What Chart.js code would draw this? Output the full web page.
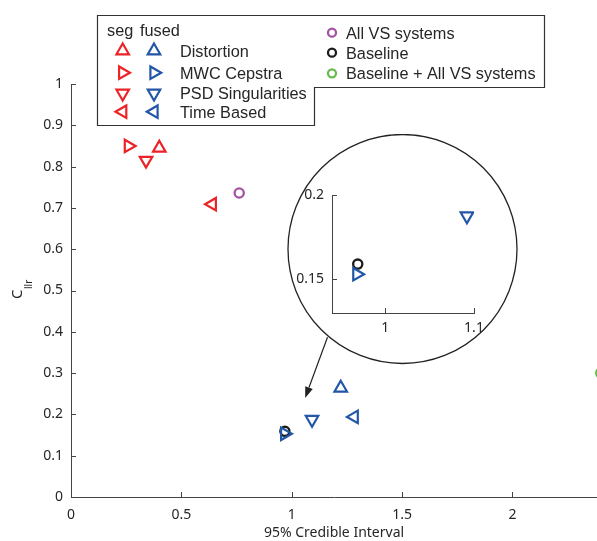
<!DOCTYPE html>
<html>
<head>
<meta charset="utf-8">
<title>Cllr vs credible interval</title>
<script src="https://cdn.jsdelivr.net/npm/chart.js@4.4.0/dist/chart.umd.min.js"></script>
<style>
body { margin: 0; background: #fff; }
#wrap { position: relative; width: 597px; height: 541px; }
#mainChart { position: absolute; left: 0; top: 0; }
#zoomChart { position: absolute; left: 287px; top: 134px; }
</style>
</head>
<body>
<div id="wrap">
<canvas id="mainChart" width="597" height="541"></canvas>
<canvas id="zoomChart" width="232" height="232"></canvas>
</div>
<script>
// feature groups, order matches the marker orientation ^ > v <
var categories = ['Distortion', 'MWC Cepstra', 'PSD Singularities', 'Time Based'];
var markerRotation = [0, 90, 180, 270];

// segment-level systems
var segX = [0.40, 0.26, 0.34, 0.64];
var segY = [0.845, 0.85, 0.815, 0.709];

// fused systems
var fusedX = [1.222, 0.968, 1.092, 1.283];
var fusedY = [0.264, 0.153, 0.1875, 0.194];

// reference systems
var allVsX = [0.762], allVsY = [0.736];
var baselineX = [0.969], baselineY = [0.159];
var comboX = [2.40], comboY = [0.30];

// axis ticks
var xTicks = [0, 0.5, 1, 1.5, 2];
var yTicks = [0, 0.1, 0.2, 0.3, 0.4, 0.5, 0.6, 0.7, 0.8, 0.9, 1];
var zoomXTicks = [1, 1.1];
var zoomYTicks = [0.15, 0.2];

var RED = '#ec2227', BLUE = '#2256a6', PURPLE = '#a352a5', GREEN = '#66bb4a', BLACK = '#1b1b1b';
var TEXT = '#262626';
var tickFont = { family: '"Noto Sans", sans-serif', size: 14 };
var TRI = 7.2, RING = 4.6;

function toPoints(xs, ys) {
    return xs.map(function(x, i) { return { x: x, y: ys[i] }; });
}
function fmt(v) { return String(Math.round(v * 1000) / 1000); }

function buildDatasets() {
    return [
        { label: 'fused', data: toPoints(fusedX, fusedY), borderColor: BLUE, backgroundColor: 'transparent',
          pointStyle: 'triangle', pointRotation: markerRotation, pointRadius: TRI, pointBorderWidth: 2.2, order: 0 },
        { label: 'seg', data: toPoints(segX, segY), borderColor: RED, backgroundColor: 'transparent',
          pointStyle: 'triangle', pointRotation: markerRotation, pointRadius: TRI, pointBorderWidth: 2.2, order: 1 },
        { label: 'All VS systems', data: toPoints(allVsX, allVsY), borderColor: PURPLE, backgroundColor: 'transparent',
          pointRadius: RING, pointBorderWidth: 2.3, order: 2 },
        { label: 'Baseline', data: toPoints(baselineX, baselineY), borderColor: BLACK, backgroundColor: 'transparent',
          pointRadius: RING, pointBorderWidth: 2.3, order: 3 },
        { label: 'Baseline + All VS systems', data: toPoints(comboX, comboY), borderColor: GREEN, backgroundColor: 'transparent',
          pointRadius: RING, pointBorderWidth: 2.3, order: 4, clip: false }
    ];
}

// fixed axis boxes, no extra label padding
function fixHeight(h) {
    return function(s) { s.height = h; s.paddingLeft = 0; s.paddingRight = 0; };
}
function fixWidth(w) {
    return function(s) { s.width = w; s.paddingTop = 0; s.paddingBottom = 0; };
}

// matlab-style ticks that point into the plot area
var inwardTicks = {
    id: 'inwardTicks',
    afterDatasetsDraw: function(chart) {
        var ctx = chart.ctx, a = chart.chartArea;
        ctx.save();
        ctx.strokeStyle = '#444';
        ctx.lineWidth = 1;
        ctx.beginPath();
        chart.scales.x.ticks.forEach(function(t) {
            var px = Math.round(chart.scales.x.getPixelForValue(t.value)) + 0.5;
            ctx.moveTo(px, a.bottom); ctx.lineTo(px, a.bottom - 5);
        });
        chart.scales.y.ticks.forEach(function(t) {
            var py = Math.round(chart.scales.y.getPixelForValue(t.value)) + 0.5;
            ctx.moveTo(a.left, py); ctx.lineTo(a.left + 5, py);
        });
        ctx.stroke();
        ctx.restore();
    }
};

function marker(ctx, color, style, rotation, radius, x, y) {
    ctx.strokeStyle = color;
    ctx.fillStyle = 'transparent';
    ctx.lineWidth = style === 'circle' ? 2.3 : 2.2;
    Chart.helpers.drawPoint(ctx, { pointStyle: style, rotation: rotation, radius: radius, borderWidth: ctx.lineWidth }, x, y);
}

// legend box, y-axis label with subscript and the zoom arrow
var decorations = {
    id: 'decorations',
    afterDraw: function(chart) {
        var ctx = chart.ctx;
        ctx.save();

        // legend outline (stepped box)
        ctx.beginPath();
        ctx.moveTo(97.5, 15.5); ctx.lineTo(544.5, 15.5); ctx.lineTo(544.5, 87.5);
        ctx.lineTo(314.5, 87.5); ctx.lineTo(314.5, 125.5); ctx.lineTo(97.5, 125.5);
        ctx.closePath();
        ctx.fillStyle = '#fff'; ctx.fill();
        ctx.strokeStyle = '#333'; ctx.lineWidth = 1.2; ctx.stroke();

        ctx.font = '16.3px "Liberation Sans", Arial, sans-serif';
        ctx.fillStyle = TEXT;
        ctx.textBaseline = 'alphabetic';
        ctx.fillText('seg', 107, 35.5);
        ctx.fillText('fused', 140, 35.5);
        var rows = [50.7, 72.7, 93.3, 111.7];
        categories.forEach(function(name, i) {
            ctx.fillStyle = TEXT;
            ctx.fillText(name, 180, rows[i] + 6);
            marker(ctx, RED, 'triangle', markerRotation[i], TRI, 122.7, rows[i]);
            marker(ctx, BLUE, 'triangle', markerRotation[i], TRI, 154, rows[i]);
        });
        var refs = [['All VS systems', PURPLE, 32.7], ['Baseline', BLACK, 52.7], ['Baseline + All VS systems', GREEN, 73.3]];
        refs.forEach(function(r) {
            ctx.fillStyle = TEXT;
            ctx.fillText(r[0], 346, r[2] + 6);
            marker(ctx, r[1], 'circle', 0, 4, 332, r[2]);
        });

        // y label: C with subscript llr
        ctx.fillStyle = TEXT;
        ctx.translate(22, 299);
        ctx.rotate(-Math.PI / 2);
        ctx.font = '15px "Noto Sans", sans-serif';
        ctx.fillText('C', 0, 0);
        var cw = ctx.measureText('C').width;
        ctx.font = '10px "Noto Sans", sans-serif';
        ctx.fillText('llr', cw + 0.5, 10);
        ctx.setTransform(1, 0, 0, 1, 0, 0);

        // arrow from the magnifier down to the fused cluster
        var xs = chart.scales.x, ys = chart.scales.y;
        var x0 = xs.getPixelForValue(1.162), y0 = ys.getPixelForValue(0.387);
        var x1 = xs.getPixelForValue(1.061), y1 = ys.getPixelForValue(0.24);
        var ang = Math.atan2(y1 - y0, x1 - x0), head = 11, half = 4;
        var bx = x1 - Math.cos(ang) * head, by = y1 - Math.sin(ang) * head;
        ctx.strokeStyle = '#222'; ctx.lineWidth = 1.2;
        ctx.beginPath(); ctx.moveTo(x0, y0); ctx.lineTo(bx, by); ctx.stroke();
        ctx.fillStyle = '#222';
        ctx.beginPath();
        ctx.moveTo(x1, y1);
        ctx.lineTo(bx + Math.sin(ang) * half, by - Math.cos(ang) * half);
        ctx.lineTo(bx - Math.sin(ang) * half, by + Math.cos(ang) * half);
        ctx.closePath(); ctx.fill();

        ctx.restore();
    }
};

var mainChart = new Chart(document.getElementById('mainChart').getContext('2d'), {
    type: 'scatter',
    data: { datasets: buildDatasets() },
    options: {
        responsive: false,
        animation: false,
        devicePixelRatio: 1,
        layout: { autoPadding: false, padding: { top: 84, right: 0, left: 0, bottom: 0 } },
        plugins: { legend: { display: false }, tooltip: { enabled: false } },
        scales: {
            x: {
                type: 'linear', min: 0, max: 2.383,
                afterBuildTicks: function(s) { s.ticks = xTicks.map(function(v) { return { value: v }; }); },
                afterFit: fixHeight(44),
                grid: { display: true, drawOnChartArea: false, drawTicks: false },
                border: { display: true, color: '#444', width: 1 },
                ticks: { padding: 10, color: TEXT, font: tickFont, callback: fmt, maxRotation: 0, autoSkip: false },
                title: { display: true, text: '95% Credible Interval', color: TEXT, font: tickFont, padding: 0 }
            },
            y: {
                type: 'linear', min: 0, max: 1,
                afterBuildTicks: function(s) { s.ticks = yTicks.map(function(v) { return { value: v }; }); },
                afterFit: fixWidth(71),
                grid: { display: true, drawOnChartArea: false, drawTicks: false },
                border: { display: true, color: '#444', width: 1 },
                ticks: { padding: 8, color: TEXT, font: tickFont, callback: fmt, autoSkip: false }
            }
        }
    },
    plugins: [inwardTicks, decorations]
});

// magnifier circle behind the zoomed axes
var lens = {
    id: 'lens',
    beforeDraw: function(chart) {
        var ctx = chart.ctx;
        ctx.save();
        ctx.beginPath();
        ctx.arc(115.5, 115, 114.5, 0, Math.PI * 2);
        ctx.fillStyle = '#fff'; ctx.fill();
        ctx.strokeStyle = '#222'; ctx.lineWidth = 1.3; ctx.stroke();
        ctx.restore();
    }
};

var zoomChart = new Chart(document.getElementById('zoomChart').getContext('2d'), {
    type: 'scatter',
    data: { datasets: buildDatasets() },
    options: {
        responsive: false,
        animation: false,
        devicePixelRatio: 1,
        layout: { autoPadding: false, padding: { top: 61, right: 45, left: 0, bottom: 0 } },
        plugins: { legend: { display: false }, tooltip: { enabled: false } },
        scales: {
            x: {
                type: 'linear', min: 0.94, max: 1.1,
                afterBuildTicks: function(s) { s.ticks = zoomXTicks.map(function(v) { return { value: v }; }); },
                afterFit: fixHeight(53),
                grid: { display: true, drawOnChartArea: false, drawTicks: false },
                border: { display: true, color: '#444', width: 1 },
                ticks: { padding: 7, color: TEXT, font: tickFont, callback: fmt, maxRotation: 0, autoSkip: false }
            },
            y: {
                type: 'linear', min: 0.13, max: 0.2,
                afterBuildTicks: function(s) { s.ticks = zoomYTicks.map(function(v) { return { value: v }; }); },
                afterFit: fixWidth(45),
                grid: { display: true, drawOnChartArea: false, drawTicks: false },
                border: { display: true, color: '#444', width: 1 },
                ticks: { padding: 8, color: TEXT, font: tickFont, callback: fmt, autoSkip: false }
            }
        }
    },
    plugins: [lens, inwardTicks]
});
</script>
</body>
</html>
